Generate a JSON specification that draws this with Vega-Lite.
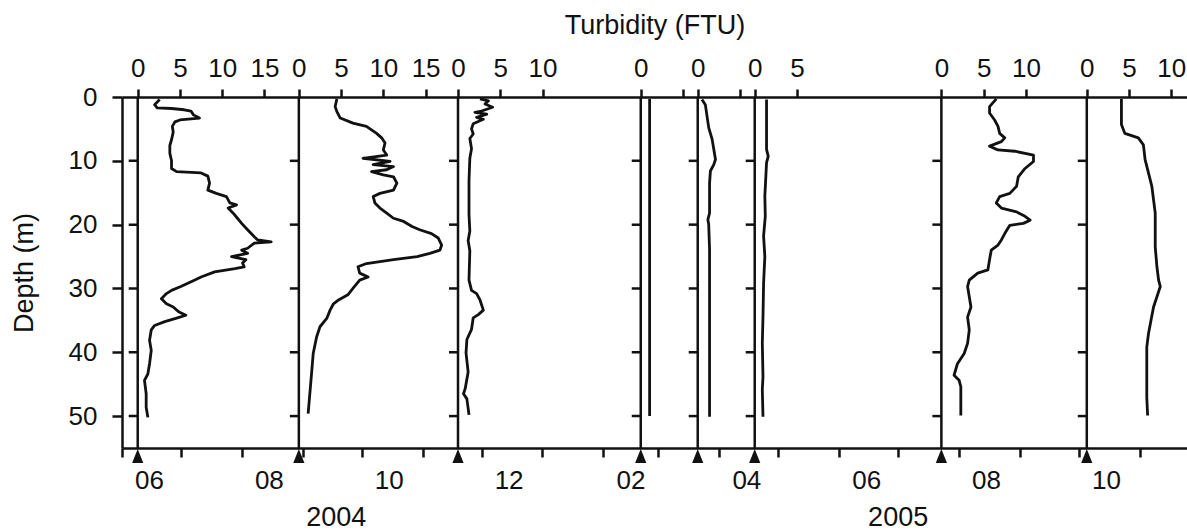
{
  "$schema": "https://vega.github.io/schema/vega-lite/v6.json",
  "width": 1065,
  "height": 351,
  "autosize": "none",
  "padding": {"left": 122, "top": 97, "right": 0, "bottom": 83},
  "background": "white",
  "config": {
    "view": {"stroke": null},
    "font": "Liberation Sans",
    "line": {"color": "#111", "strokeWidth": 2.8, "strokeJoin": "round"},
    "axis": {
      "labelFont": "Liberation Sans", "titleFont": "Liberation Sans",
      "labelFontSize": 26, "titleFontSize": 27, "titleFontWeight": "normal",
      "labelColor": "#111", "titleColor": "#111", "domainColor": "#111", "tickColor": "#111",
      "domainWidth": 2.5, "tickWidth": 2.5, "grid": false, "labelFlush": false, "labelOverlap": false
    }
  },
  "datasets": {
    "samples": [
      {"date": "2004-06-09T00:00:00"}, {"date": "2004-08-30T00:00:00"}, {"date": "2004-11-19T00:00:00"},
      {"date": "2005-02-20T00:00:00"}, {"date": "2005-03-21T00:00:00"}, {"date": "2005-04-19T00:00:00"},
      {"date": "2005-07-23T00:00:00"}, {"date": "2005-10-05T00:00:00"}
    ],
    "years": [
      {"year": "2004", "mid": "2004-09-18T00:00:00"},
      {"year": "2005", "mid": "2005-07-01T00:00:00"}
    ],
    "depthTicks": [{"depth": 10}, {"depth": 20}, {"depth": 30}, {"depth": 40}, {"depth": 50}],
    "profiles": [
      {"date": "2004-06-09", "depth": 0.4, "turb": 2.6}, {"date": "2004-06-09", "depth": 1.2, "turb": 2.0},
      {"date": "2004-06-09", "depth": 1.7, "turb": 2.3}, {"date": "2004-06-09", "depth": 1.8, "turb": 4.0},
      {"date": "2004-06-09", "depth": 2.0, "turb": 5.5}, {"date": "2004-06-09", "depth": 2.2, "turb": 6.3},
      {"date": "2004-06-09", "depth": 2.8, "turb": 6.6}, {"date": "2004-06-09", "depth": 3.3, "turb": 7.3},
      {"date": "2004-06-09", "depth": 3.6, "turb": 5.0}, {"date": "2004-06-09", "depth": 3.9, "turb": 4.4},
      {"date": "2004-06-09", "depth": 4.6, "turb": 4.1}, {"date": "2004-06-09", "depth": 5.5, "turb": 4.2},
      {"date": "2004-06-09", "depth": 6.7, "turb": 4.0}, {"date": "2004-06-09", "depth": 7.6, "turb": 3.8},
      {"date": "2004-06-09", "depth": 8.8, "turb": 3.8}, {"date": "2004-06-09", "depth": 10.0, "turb": 4.0},
      {"date": "2004-06-09", "depth": 11.2, "turb": 4.0}, {"date": "2004-06-09", "depth": 11.7, "turb": 4.6},
      {"date": "2004-06-09", "depth": 11.9, "turb": 7.5}, {"date": "2004-06-09", "depth": 12.4, "turb": 8.3},
      {"date": "2004-06-09", "depth": 13.5, "turb": 8.5}, {"date": "2004-06-09", "depth": 14.6, "turb": 8.3},
      {"date": "2004-06-09", "depth": 15.1, "turb": 9.3}, {"date": "2004-06-09", "depth": 15.6, "turb": 10.5},
      {"date": "2004-06-09", "depth": 16.6, "turb": 10.9}, {"date": "2004-06-09", "depth": 16.9, "turb": 11.7},
      {"date": "2004-06-09", "depth": 17.4, "turb": 10.7}, {"date": "2004-06-09", "depth": 18.2, "turb": 11.3},
      {"date": "2004-06-09", "depth": 19.0, "turb": 11.8}, {"date": "2004-06-09", "depth": 19.8, "turb": 12.3},
      {"date": "2004-06-09", "depth": 20.8, "turb": 13.0}, {"date": "2004-06-09", "depth": 21.9, "turb": 13.8},
      {"date": "2004-06-09", "depth": 22.4, "turb": 14.2}, {"date": "2004-06-09", "depth": 22.7, "turb": 15.8},
      {"date": "2004-06-09", "depth": 22.9, "turb": 13.8}, {"date": "2004-06-09", "depth": 23.7, "turb": 13.0},
      {"date": "2004-06-09", "depth": 24.0, "turb": 12.3}, {"date": "2004-06-09", "depth": 24.5, "turb": 13.0},
      {"date": "2004-06-09", "depth": 25.0, "turb": 11.1}, {"date": "2004-06-09", "depth": 25.5, "turb": 12.8},
      {"date": "2004-06-09", "depth": 26.0, "turb": 12.4}, {"date": "2004-06-09", "depth": 26.6, "turb": 12.6},
      {"date": "2004-06-09", "depth": 26.9, "turb": 11.5}, {"date": "2004-06-09", "depth": 27.4, "turb": 9.1},
      {"date": "2004-06-09", "depth": 28.2, "turb": 7.5}, {"date": "2004-06-09", "depth": 28.7, "turb": 6.7},
      {"date": "2004-06-09", "depth": 29.7, "turb": 5.1}, {"date": "2004-06-09", "depth": 30.3, "turb": 4.0},
      {"date": "2004-06-09", "depth": 30.8, "turb": 3.4}, {"date": "2004-06-09", "depth": 31.6, "turb": 2.8},
      {"date": "2004-06-09", "depth": 32.4, "turb": 3.4}, {"date": "2004-06-09", "depth": 32.9, "turb": 4.2},
      {"date": "2004-06-09", "depth": 33.7, "turb": 4.9}, {"date": "2004-06-09", "depth": 34.2, "turb": 5.7},
      {"date": "2004-06-09", "depth": 34.7, "turb": 4.5}, {"date": "2004-06-09", "depth": 35.2, "turb": 3.2},
      {"date": "2004-06-09", "depth": 35.8, "turb": 2.0}, {"date": "2004-06-09", "depth": 36.5, "turb": 1.6},
      {"date": "2004-06-09", "depth": 38.1, "turb": 1.4}, {"date": "2004-06-09", "depth": 39.7, "turb": 1.6},
      {"date": "2004-06-09", "depth": 41.8, "turb": 1.4}, {"date": "2004-06-09", "depth": 43.4, "turb": 1.2},
      {"date": "2004-06-09", "depth": 44.4, "turb": 0.8}, {"date": "2004-06-09", "depth": 46.5, "turb": 1.0},
      {"date": "2004-06-09", "depth": 48.6, "turb": 1.0}, {"date": "2004-06-09", "depth": 50.2, "turb": 1.2},

      {"date": "2004-08-30", "depth": 0.3, "turb": 4.5}, {"date": "2004-08-30", "depth": 1.5, "turb": 4.3},
      {"date": "2004-08-30", "depth": 2.3, "turb": 4.5}, {"date": "2004-08-30", "depth": 3.3, "turb": 4.9},
      {"date": "2004-08-30", "depth": 4.1, "turb": 6.4}, {"date": "2004-08-30", "depth": 4.6, "turb": 8.0},
      {"date": "2004-08-30", "depth": 5.7, "turb": 9.2}, {"date": "2004-08-30", "depth": 6.4, "turb": 9.8},
      {"date": "2004-08-30", "depth": 7.2, "turb": 10.2}, {"date": "2004-08-30", "depth": 8.3, "turb": 10.0},
      {"date": "2004-08-30", "depth": 9.1, "turb": 10.4}, {"date": "2004-08-30", "depth": 9.6, "turb": 7.6},
      {"date": "2004-08-30", "depth": 10.1, "turb": 10.8}, {"date": "2004-08-30", "depth": 10.6, "turb": 8.8},
      {"date": "2004-08-30", "depth": 10.9, "turb": 11.2}, {"date": "2004-08-30", "depth": 11.4, "turb": 10.4},
      {"date": "2004-08-30", "depth": 11.7, "turb": 8.6}, {"date": "2004-08-30", "depth": 12.2, "turb": 10.0},
      {"date": "2004-08-30", "depth": 12.5, "turb": 11.2}, {"date": "2004-08-30", "depth": 13.5, "turb": 11.6},
      {"date": "2004-08-30", "depth": 14.6, "turb": 11.2}, {"date": "2004-08-30", "depth": 15.1, "turb": 9.6},
      {"date": "2004-08-30", "depth": 15.6, "turb": 8.8}, {"date": "2004-08-30", "depth": 16.6, "turb": 9.0},
      {"date": "2004-08-30", "depth": 17.4, "turb": 9.6}, {"date": "2004-08-30", "depth": 18.2, "turb": 10.4},
      {"date": "2004-08-30", "depth": 19.0, "turb": 11.2}, {"date": "2004-08-30", "depth": 19.5, "turb": 12.4},
      {"date": "2004-08-30", "depth": 20.3, "turb": 13.4}, {"date": "2004-08-30", "depth": 20.8, "turb": 14.3},
      {"date": "2004-08-30", "depth": 21.4, "turb": 15.7}, {"date": "2004-08-30", "depth": 22.1, "turb": 16.5},
      {"date": "2004-08-30", "depth": 23.2, "turb": 16.9}, {"date": "2004-08-30", "depth": 24.0, "turb": 16.7},
      {"date": "2004-08-30", "depth": 24.5, "turb": 15.5}, {"date": "2004-08-30", "depth": 25.0, "turb": 14.0},
      {"date": "2004-08-30", "depth": 25.5, "turb": 11.2}, {"date": "2004-08-30", "depth": 26.1, "turb": 8.0},
      {"date": "2004-08-30", "depth": 26.6, "turb": 7.0}, {"date": "2004-08-30", "depth": 27.6, "turb": 7.2},
      {"date": "2004-08-30", "depth": 28.2, "turb": 8.2}, {"date": "2004-08-30", "depth": 28.7, "turb": 7.2},
      {"date": "2004-08-30", "depth": 30.0, "turb": 6.4}, {"date": "2004-08-30", "depth": 31.0, "turb": 5.8},
      {"date": "2004-08-30", "depth": 31.8, "turb": 4.7}, {"date": "2004-08-30", "depth": 32.4, "turb": 4.1},
      {"date": "2004-08-30", "depth": 33.4, "turb": 3.7}, {"date": "2004-08-30", "depth": 34.7, "turb": 3.3},
      {"date": "2004-08-30", "depth": 36.0, "turb": 2.5}, {"date": "2004-08-30", "depth": 37.6, "turb": 2.1},
      {"date": "2004-08-30", "depth": 40.2, "turb": 1.7}, {"date": "2004-08-30", "depth": 43.4, "turb": 1.5},
      {"date": "2004-08-30", "depth": 46.5, "turb": 1.3}, {"date": "2004-08-30", "depth": 49.6, "turb": 1.1},

      {"date": "2004-11-19", "depth": 0.3, "turb": 2.6}, {"date": "2004-11-19", "depth": 0.6, "turb": 3.6},
      {"date": "2004-11-19", "depth": 1.1, "turb": 3.2}, {"date": "2004-11-19", "depth": 1.6, "turb": 4.1},
      {"date": "2004-11-19", "depth": 2.2, "turb": 2.8}, {"date": "2004-11-19", "depth": 2.4, "turb": 2.0},
      {"date": "2004-11-19", "depth": 2.7, "turb": 3.4}, {"date": "2004-11-19", "depth": 3.2, "turb": 2.2},
      {"date": "2004-11-19", "depth": 3.5, "turb": 3.0}, {"date": "2004-11-19", "depth": 4.2, "turb": 1.8},
      {"date": "2004-11-19", "depth": 5.0, "turb": 1.6}, {"date": "2004-11-19", "depth": 5.8, "turb": 1.8},
      {"date": "2004-11-19", "depth": 6.5, "turb": 1.4}, {"date": "2004-11-19", "depth": 8.1, "turb": 1.6},
      {"date": "2004-11-19", "depth": 9.6, "turb": 1.4}, {"date": "2004-11-19", "depth": 13.2, "turb": 1.3},
      {"date": "2004-11-19", "depth": 18.4, "turb": 1.3}, {"date": "2004-11-19", "depth": 21.0, "turb": 1.4},
      {"date": "2004-11-19", "depth": 22.5, "turb": 1.2}, {"date": "2004-11-19", "depth": 24.1, "turb": 1.4},
      {"date": "2004-11-19", "depth": 28.7, "turb": 1.3}, {"date": "2004-11-19", "depth": 30.3, "turb": 1.6},
      {"date": "2004-11-19", "depth": 30.8, "turb": 2.2}, {"date": "2004-11-19", "depth": 31.8, "turb": 2.6},
      {"date": "2004-11-19", "depth": 33.4, "turb": 3.0}, {"date": "2004-11-19", "depth": 34.1, "turb": 2.4},
      {"date": "2004-11-19", "depth": 34.6, "turb": 1.8}, {"date": "2004-11-19", "depth": 36.4, "turb": 1.6},
      {"date": "2004-11-19", "depth": 38.0, "turb": 1.05}, {"date": "2004-11-19", "depth": 40.1, "turb": 0.95},
      {"date": "2004-11-19", "depth": 43.1, "turb": 1.2}, {"date": "2004-11-19", "depth": 45.7, "turb": 0.85},
      {"date": "2004-11-19", "depth": 46.5, "turb": 0.65}, {"date": "2004-11-19", "depth": 47.3, "turb": 1.05},
      {"date": "2004-11-19", "depth": 48.8, "turb": 1.2}, {"date": "2004-11-19", "depth": 49.8, "turb": 1.3},

      {"date": "2005-02-20", "depth": 0.3, "turb": 1.05}, {"date": "2005-02-20", "depth": 10, "turb": 1.05},
      {"date": "2005-02-20", "depth": 20, "turb": 1.05}, {"date": "2005-02-20", "depth": 30, "turb": 1.05},
      {"date": "2005-02-20", "depth": 40, "turb": 1.05}, {"date": "2005-02-20", "depth": 50.0, "turb": 1.05},

      {"date": "2005-03-21", "depth": 0.4, "turb": 0.5}, {"date": "2005-03-21", "depth": 1.2, "turb": 0.9},
      {"date": "2005-03-21", "depth": 3.0, "turb": 1.1}, {"date": "2005-03-21", "depth": 4.8, "turb": 1.3},
      {"date": "2005-03-21", "depth": 6.6, "turb": 1.7}, {"date": "2005-03-21", "depth": 8.2, "turb": 1.9},
      {"date": "2005-03-21", "depth": 9.8, "turb": 2.1}, {"date": "2005-03-21", "depth": 10.6, "turb": 1.9},
      {"date": "2005-03-21", "depth": 11.6, "turb": 1.5}, {"date": "2005-03-21", "depth": 13.5, "turb": 1.4},
      {"date": "2005-03-21", "depth": 18.2, "turb": 1.4}, {"date": "2005-03-21", "depth": 19.2, "turb": 1.2},
      {"date": "2005-03-21", "depth": 20.0, "turb": 1.3}, {"date": "2005-03-21", "depth": 23.9, "turb": 1.4},
      {"date": "2005-03-21", "depth": 34.4, "turb": 1.4}, {"date": "2005-03-21", "depth": 44.9, "turb": 1.4},
      {"date": "2005-03-21", "depth": 50.1, "turb": 1.4},

      {"date": "2005-04-19", "depth": 0.4, "turb": 1.4}, {"date": "2005-04-19", "depth": 8.2, "turb": 1.4},
      {"date": "2005-04-19", "depth": 9.3, "turb": 1.6}, {"date": "2005-04-19", "depth": 10.3, "turb": 1.4},
      {"date": "2005-04-19", "depth": 15.5, "turb": 1.2}, {"date": "2005-04-19", "depth": 18.7, "turb": 1.25},
      {"date": "2005-04-19", "depth": 21.8, "turb": 1.05}, {"date": "2005-04-19", "depth": 25.0, "turb": 1.2},
      {"date": "2005-04-19", "depth": 29.2, "turb": 1.05}, {"date": "2005-04-19", "depth": 34.4, "turb": 0.98},
      {"date": "2005-04-19", "depth": 38.6, "turb": 0.9}, {"date": "2005-04-19", "depth": 43.8, "turb": 0.98},
      {"date": "2005-04-19", "depth": 45.9, "turb": 0.9}, {"date": "2005-04-19", "depth": 50.1, "turb": 0.98},

      {"date": "2005-07-23", "depth": 0.3, "turb": 6.5}, {"date": "2005-07-23", "depth": 1.5, "turb": 5.7},
      {"date": "2005-07-23", "depth": 2.5, "turb": 5.7}, {"date": "2005-07-23", "depth": 3.6, "turb": 6.3},
      {"date": "2005-07-23", "depth": 4.6, "turb": 6.7}, {"date": "2005-07-23", "depth": 5.7, "turb": 6.9},
      {"date": "2005-07-23", "depth": 6.4, "turb": 7.5}, {"date": "2005-07-23", "depth": 7.0, "turb": 7.1},
      {"date": "2005-07-23", "depth": 7.7, "turb": 5.7}, {"date": "2005-07-23", "depth": 8.3, "turb": 6.7},
      {"date": "2005-07-23", "depth": 8.5, "turb": 8.7}, {"date": "2005-07-23", "depth": 9.1, "turb": 10.9},
      {"date": "2005-07-23", "depth": 10.1, "turb": 10.9}, {"date": "2005-07-23", "depth": 11.2, "turb": 9.9},
      {"date": "2005-07-23", "depth": 12.5, "turb": 9.1}, {"date": "2005-07-23", "depth": 14.0, "turb": 8.9},
      {"date": "2005-07-23", "depth": 15.1, "turb": 8.1}, {"date": "2005-07-23", "depth": 15.6, "turb": 6.9},
      {"date": "2005-07-23", "depth": 16.6, "turb": 6.5}, {"date": "2005-07-23", "depth": 17.4, "turb": 7.1},
      {"date": "2005-07-23", "depth": 18.0, "turb": 8.9}, {"date": "2005-07-23", "depth": 18.7, "turb": 9.9},
      {"date": "2005-07-23", "depth": 19.3, "turb": 10.5}, {"date": "2005-07-23", "depth": 19.8, "turb": 9.7},
      {"date": "2005-07-23", "depth": 20.1, "turb": 8.1}, {"date": "2005-07-23", "depth": 21.4, "turb": 7.5},
      {"date": "2005-07-23", "depth": 22.4, "turb": 7.1}, {"date": "2005-07-23", "depth": 23.2, "turb": 6.7},
      {"date": "2005-07-23", "depth": 24.0, "turb": 5.9}, {"date": "2005-07-23", "depth": 25.5, "turb": 5.7},
      {"date": "2005-07-23", "depth": 27.1, "turb": 5.5}, {"date": "2005-07-23", "depth": 27.6, "turb": 4.3},
      {"date": "2005-07-23", "depth": 28.7, "turb": 3.3}, {"date": "2005-07-23", "depth": 29.7, "turb": 3.1},
      {"date": "2005-07-23", "depth": 31.3, "turb": 3.3}, {"date": "2005-07-23", "depth": 32.9, "turb": 3.5},
      {"date": "2005-07-23", "depth": 34.5, "turb": 3.1}, {"date": "2005-07-23", "depth": 36.5, "turb": 3.3},
      {"date": "2005-07-23", "depth": 38.6, "turb": 3.1}, {"date": "2005-07-23", "depth": 40.2, "turb": 2.7},
      {"date": "2005-07-23", "depth": 41.8, "turb": 1.9}, {"date": "2005-07-23", "depth": 43.6, "turb": 1.5},
      {"date": "2005-07-23", "depth": 44.4, "turb": 2.1}, {"date": "2005-07-23", "depth": 45.4, "turb": 2.3},
      {"date": "2005-07-23", "depth": 47.5, "turb": 2.3}, {"date": "2005-07-23", "depth": 49.9, "turb": 2.3},

      {"date": "2005-10-05", "depth": 0.3, "turb": 4.1}, {"date": "2005-10-05", "depth": 4.3, "turb": 4.1},
      {"date": "2005-10-05", "depth": 5.7, "turb": 4.5}, {"date": "2005-10-05", "depth": 6.4, "turb": 6.1},
      {"date": "2005-10-05", "depth": 7.5, "turb": 6.7}, {"date": "2005-10-05", "depth": 9.8, "turb": 6.9},
      {"date": "2005-10-05", "depth": 11.9, "turb": 7.3}, {"date": "2005-10-05", "depth": 14.0, "turb": 7.7},
      {"date": "2005-10-05", "depth": 16.1, "turb": 7.9}, {"date": "2005-10-05", "depth": 18.2, "turb": 8.1},
      {"date": "2005-10-05", "depth": 20.3, "turb": 8.1}, {"date": "2005-10-05", "depth": 23.5, "turb": 8.1},
      {"date": "2005-10-05", "depth": 26.6, "turb": 8.3}, {"date": "2005-10-05", "depth": 28.7, "turb": 8.5},
      {"date": "2005-10-05", "depth": 29.7, "turb": 8.7}, {"date": "2005-10-05", "depth": 31.3, "turb": 8.3},
      {"date": "2005-10-05", "depth": 32.9, "turb": 7.9}, {"date": "2005-10-05", "depth": 35.0, "turb": 7.6},
      {"date": "2005-10-05", "depth": 37.1, "turb": 7.3}, {"date": "2005-10-05", "depth": 39.2, "turb": 7.1},
      {"date": "2005-10-05", "depth": 43.4, "turb": 7.1}, {"date": "2005-10-05", "depth": 47.1, "turb": 7.1},
      {"date": "2005-10-05", "depth": 49.9, "turb": 7.2}
    ]
  },
  "resolve": {"scale": {"x": "independent"}, "axis": {"x": "independent", "y": "independent"}},
  "layer": [
    {
      "data": {"name": "samples"},
      "mark": {"type": "rule", "color": "#111", "strokeWidth": 2.5},
      "encoding": {
        "x": {"field": "date", "type": "temporal",
          "scale": {"domain": [{"year": 2004, "month": 6, "date": 1}, {"year": 2005, "month": 11, "date": 25}]},
          "axis": {"title": null, "orient": "bottom", "tickCount": {"interval": "month", "step": 1},
            "labelExpr": "month(datum.value) % 2 == 1 ? timeFormat(datum.value, '%m') : ''",
            "labelOffset": 27, "tickSize": 9, "labelPadding": 10, "domain": true}}
      }
    },
    {
      "data": {"name": "samples"},
      "mark": {"type": "point", "shape": "M0,-1L-0.8,1L0.8,1Z", "filled": true, "size": 196, "color": "#111", "opacity": 1, "yOffset": 8},
      "encoding": {
        "x": {"field": "date", "type": "temporal", "axis": null,
          "scale": {"domain": [{"year": 2004, "month": 6, "date": 1}, {"year": 2005, "month": 11, "date": 25}]}},
        "y": {"datum": 55, "type": "quantitative", "axis": null, "scale": {"domain": [0, 55], "reverse": true, "nice": false, "zero": false}}
      }
    },
    {
      "data": {"name": "years"},
      "mark": {"type": "text", "fontSize": 27, "font": "Liberation Sans", "color": "#111", "yOffset": 70},
      "encoding": {
        "x": {"field": "mid", "type": "temporal", "axis": null,
          "scale": {"domain": [{"year": 2004, "month": 6, "date": 1}, {"year": 2005, "month": 11, "date": 25}]}},
        "y": {"datum": 55, "type": "quantitative", "axis": null, "scale": {"domain": [0, 55], "reverse": true, "nice": false, "zero": false}},
        "text": {"field": "year"}
      }
    },
    {
      "data": {"name": "profiles"}, "transform": [{"filter": "datum.date == '2004-06-09'"}],
      "mark": {"type": "line"},
      "encoding": {
        "x": {"field": "turb", "type": "quantitative", "scale": {"domain": [-1.8603, 124.1752], "nice": false, "zero": false},
          "axis": {"orient": "top", "values": [0, 5, 10, 15], "title": "Turbidity (FTU)", "titlePadding": 16, "tickSize": 8, "labelPadding": 8, "domain": true}},
        "y": {"field": "depth", "type": "quantitative", "scale": {"domain": [0, 55], "reverse": true, "nice": false, "zero": false},
          "axis": {"orient": "left", "title": "Depth (m)", "values": [0, 10, 20, 30, 40, 50], "tickSize": 10, "labelPadding": 15, "titlePadding": 30, "domain": true}},
        "order": {"field": "depth"}
      }
    },
    {
      "data": {"name": "depthTicks"},
      "mark": {"type": "tick", "orient": "horizontal", "size": 9, "thickness": 2.5, "xOffset": -4.5, "color": "#111", "opacity": 1},
      "encoding": {
        "x": {"datum": 0, "type": "quantitative", "axis": null, "scale": {"domain": [-1.8603, 124.1752], "nice": false, "zero": false}},
        "y": {"field": "depth", "type": "quantitative", "axis": null, "scale": {"domain": [0, 55], "reverse": true, "nice": false, "zero": false}}
      }
    },
    {
      "data": {"name": "profiles"}, "transform": [{"filter": "datum.date == '2004-08-30'"}],
      "mark": {"type": "line"},
      "encoding": {
        "x": {"field": "turb", "type": "quantitative", "scale": {"domain": [-20.9284, 105.1071], "nice": false, "zero": false},
          "axis": {"orient": "top", "values": [0, 5, 10, 15], "title": null, "tickSize": 8, "labelPadding": 8, "domain": false}},
        "y": {"field": "depth", "type": "quantitative", "axis": null, "scale": {"domain": [0, 55], "reverse": true, "nice": false, "zero": false}},
        "order": {"field": "depth"}
      }
    },
    {
      "data": {"name": "depthTicks"},
      "mark": {"type": "tick", "orient": "horizontal", "size": 9, "thickness": 2.5, "xOffset": -4.5, "color": "#111", "opacity": 1},
      "encoding": {
        "x": {"datum": 0, "type": "quantitative", "axis": null, "scale": {"domain": [-20.9284, 105.1071], "nice": false, "zero": false}},
        "y": {"field": "depth", "type": "quantitative", "axis": null, "scale": {"domain": [0, 55], "reverse": true, "nice": false, "zero": false}}
      }
    },
    {
      "data": {"name": "profiles"}, "transform": [{"filter": "datum.date == '2004-11-19'"}],
      "mark": {"type": "line"},
      "encoding": {
        "x": {"field": "turb", "type": "quantitative", "scale": {"domain": [-39.7640, 86.2715], "nice": false, "zero": false},
          "axis": {"orient": "top", "values": [0, 5, 10], "title": null, "tickSize": 8, "labelPadding": 8, "domain": false}},
        "y": {"field": "depth", "type": "quantitative", "axis": null, "scale": {"domain": [0, 55], "reverse": true, "nice": false, "zero": false}},
        "order": {"field": "depth"}
      }
    },
    {
      "data": {"name": "depthTicks"},
      "mark": {"type": "tick", "orient": "horizontal", "size": 9, "thickness": 2.5, "xOffset": -4.5, "color": "#111", "opacity": 1},
      "encoding": {
        "x": {"datum": 0, "type": "quantitative", "axis": null, "scale": {"domain": [-39.7640, 86.2715], "nice": false, "zero": false}},
        "y": {"field": "depth", "type": "quantitative", "axis": null, "scale": {"domain": [0, 55], "reverse": true, "nice": false, "zero": false}}
      }
    },
    {
      "data": {"name": "profiles"}, "transform": [{"filter": "datum.date == '2005-02-20'"}],
      "mark": {"type": "line"},
      "encoding": {
        "x": {"field": "turb", "type": "quantitative", "scale": {"domain": [-61.3900, 64.6455], "nice": false, "zero": false},
          "axis": {"orient": "top", "values": [0, 5], "labelExpr": "datum.value == 0 ? datum.label : ''", "title": null, "tickSize": 8, "labelPadding": 8, "domain": false}},
        "y": {"field": "depth", "type": "quantitative", "axis": null, "scale": {"domain": [0, 55], "reverse": true, "nice": false, "zero": false}},
        "order": {"field": "depth"}
      }
    },
    {
      "data": {"name": "depthTicks"},
      "mark": {"type": "tick", "orient": "horizontal", "size": 9, "thickness": 2.5, "xOffset": -4.5, "color": "#111", "opacity": 1},
      "encoding": {
        "x": {"datum": 0, "type": "quantitative", "axis": null, "scale": {"domain": [-61.3900, 64.6455], "nice": false, "zero": false}},
        "y": {"field": "depth", "type": "quantitative", "axis": null, "scale": {"domain": [0, 55], "reverse": true, "nice": false, "zero": false}}
      }
    },
    {
      "data": {"name": "profiles"}, "transform": [{"filter": "datum.date == '2005-03-21'"}],
      "mark": {"type": "line"},
      "encoding": {
        "x": {"field": "turb", "type": "quantitative", "scale": {"domain": [-68.1336, 57.9019], "nice": false, "zero": false},
          "axis": {"orient": "top", "values": [0, 5], "labelExpr": "datum.value == 0 ? datum.label : ''", "title": null, "tickSize": 8, "labelPadding": 8, "domain": false}},
        "y": {"field": "depth", "type": "quantitative", "axis": null, "scale": {"domain": [0, 55], "reverse": true, "nice": false, "zero": false}},
        "order": {"field": "depth"}
      }
    },
    {
      "data": {"name": "depthTicks"},
      "mark": {"type": "tick", "orient": "horizontal", "size": 9, "thickness": 2.5, "xOffset": -4.5, "color": "#111", "opacity": 1},
      "encoding": {
        "x": {"datum": 0, "type": "quantitative", "axis": null, "scale": {"domain": [-68.1336, 57.9019], "nice": false, "zero": false}},
        "y": {"field": "depth", "type": "quantitative", "axis": null, "scale": {"domain": [0, 55], "reverse": true, "nice": false, "zero": false}}
      }
    },
    {
      "data": {"name": "profiles"}, "transform": [{"filter": "datum.date == '2005-04-19'"}],
      "mark": {"type": "line"},
      "encoding": {
        "x": {"field": "turb", "type": "quantitative", "scale": {"domain": [-74.8772, 51.1583], "nice": false, "zero": false},
          "axis": {"orient": "top", "values": [0, 5], "title": null, "tickSize": 8, "labelPadding": 8, "domain": false}},
        "y": {"field": "depth", "type": "quantitative", "axis": null, "scale": {"domain": [0, 55], "reverse": true, "nice": false, "zero": false}},
        "order": {"field": "depth"}
      }
    },
    {
      "data": {"name": "depthTicks"},
      "mark": {"type": "tick", "orient": "horizontal", "size": 9, "thickness": 2.5, "xOffset": -4.5, "color": "#111", "opacity": 1},
      "encoding": {
        "x": {"datum": 0, "type": "quantitative", "axis": null, "scale": {"domain": [-74.8772, 51.1583], "nice": false, "zero": false}},
        "y": {"field": "depth", "type": "quantitative", "axis": null, "scale": {"domain": [0, 55], "reverse": true, "nice": false, "zero": false}}
      }
    },
    {
      "data": {"name": "profiles"}, "transform": [{"filter": "datum.date == '2005-07-23'"}],
      "mark": {"type": "line"},
      "encoding": {
        "x": {"field": "turb", "type": "quantitative", "scale": {"domain": [-96.9683, 29.0672], "nice": false, "zero": false},
          "axis": {"orient": "top", "values": [0, 5, 10], "title": null, "tickSize": 8, "labelPadding": 8, "domain": false}},
        "y": {"field": "depth", "type": "quantitative", "axis": null, "scale": {"domain": [0, 55], "reverse": true, "nice": false, "zero": false}},
        "order": {"field": "depth"}
      }
    },
    {
      "data": {"name": "depthTicks"},
      "mark": {"type": "tick", "orient": "horizontal", "size": 9, "thickness": 2.5, "xOffset": -4.5, "color": "#111", "opacity": 1},
      "encoding": {
        "x": {"datum": 0, "type": "quantitative", "axis": null, "scale": {"domain": [-96.9683, 29.0672], "nice": false, "zero": false}},
        "y": {"field": "depth", "type": "quantitative", "axis": null, "scale": {"domain": [0, 55], "reverse": true, "nice": false, "zero": false}}
      }
    },
    {
      "data": {"name": "profiles"}, "transform": [{"filter": "datum.date == '2005-10-05'"}],
      "mark": {"type": "line"},
      "encoding": {
        "x": {"field": "turb", "type": "quantitative", "scale": {"domain": [-114.1761, 11.8594], "nice": false, "zero": false},
          "axis": {"orient": "top", "values": [0, 5, 10], "title": null, "tickSize": 8, "labelPadding": 8, "domain": false}},
        "y": {"field": "depth", "type": "quantitative", "axis": null, "scale": {"domain": [0, 55], "reverse": true, "nice": false, "zero": false}},
        "order": {"field": "depth"}
      }
    },
    {
      "data": {"name": "depthTicks"},
      "mark": {"type": "tick", "orient": "horizontal", "size": 9, "thickness": 2.5, "xOffset": -4.5, "color": "#111", "opacity": 1},
      "encoding": {
        "x": {"datum": 0, "type": "quantitative", "axis": null, "scale": {"domain": [-114.1761, 11.8594], "nice": false, "zero": false}},
        "y": {"field": "depth", "type": "quantitative", "axis": null, "scale": {"domain": [0, 55], "reverse": true, "nice": false, "zero": false}}
      }
    }
  ]
}
